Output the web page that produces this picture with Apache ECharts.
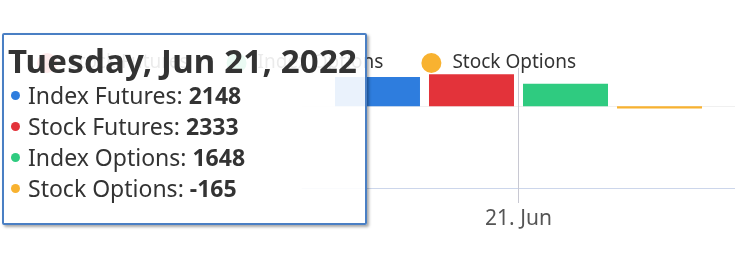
<!DOCTYPE html>
<html>
<head>
<meta charset="utf-8">
<script src="https://cdn.jsdelivr.net/npm/echarts@6/dist/echarts.min.js"></script>
<style>
  html, body { margin: 0; padding: 0; background: #ffffff; }
  #chart { width: 735px; height: 254px; }
</style>
</head>
<body>
<div id="chart"></div>
<script>
// ---- data ----
const categories = ['21. Jun'];
const fullDates = ['Tuesday, Jun 21, 2022'];
const seriesNames = ['Index Futures', 'Stock Futures', 'Index Options', 'Stock Options'];
const indexFutures = [2148];
const stockFutures = [2333];
const indexOptions = [1648];
const stockOptions = [-165];
const seriesColors = ['#2e7dde', '#e3333a', '#2fcb80', '#f8b230'];

const FONT = '"Noto Sans", sans-serif';
const values = [indexFutures, stockFutures, indexOptions, stockOptions];

const chart = echarts.init(document.getElementById('chart'), null, { renderer: 'canvas' });

const option = {
  animation: false,
  textStyle: { fontFamily: FONT },
  legend: {
    data: seriesNames.slice(1),
    right: 154,
    top: 48,
    icon: 'circle',
    itemWidth: 20,
    itemHeight: 20,
    itemGap: 38,
    textStyle: { fontFamily: FONT, fontSize: 19, color: '#333333', padding: [0, 0, 0, 6] }
  },
  grid: { left: 302, right: 0, top: 68, bottom: 66, containLabel: false },
  xAxis: {
    type: 'category',
    data: categories,
    axisLine: { show: true, onZero: false, lineStyle: { color: '#ccd6eb', width: 1 } },
    axisTick: { show: true, alignWithLabel: true, length: 15, lineStyle: { color: '#c8c8d2' } },
    axisLabel: { fontFamily: FONT, fontSize: 21, color: '#555555', margin: 21 },
    splitLine: { show: false }
  },
  yAxis: {
    type: 'value',
    min: -6000,
    max: 2800,
    interval: 3000,
    axisLabel: { show: false },
    axisLine: { show: false },
    axisTick: { show: false },
    splitLine: { show: true, lineStyle: { color: ['rgba(0,0,0,0)', 'rgba(0,0,0,0)', '#f0f0f0', 'rgba(0,0,0,0)'] } }
  },
  tooltip: {
    trigger: 'axis',
    alwaysShowContent: true,
    showDelay: 0,
    hideDelay: 0,
    transitionDuration: 0,
    position: [2, 33],
    backgroundColor: 'rgba(255,255,255,0.9)',
    borderColor: '#4a7fc4',
    borderWidth: 2,
    padding: 0,
    extraCssText: 'width:365px;height:192px;box-sizing:border-box;border-radius:2px;box-shadow:2px 2px 3px rgba(0,0,0,0.35);',
    axisPointer: { type: 'line', lineStyle: { color: '#c8c8d2', width: 1, type: 'solid' } },
    formatter: function (params) {
      const idx = params[0].dataIndex;
      let html = '<div style="font-family:' + FONT.replace(/"/g, "'") + ';color:#333;padding:10px 0 0 4px;">';
      html += '<div style="font-size:33px;font-weight:bold;line-height:32px;height:32px;white-space:nowrap;letter-spacing:0.2px;">' + fullDates[idx] + '</div>';
      html += '<div style="height:3px"></div>';
      params.forEach(function (p) {
        html += '<div style="font-size:23px;line-height:31px;height:31px;white-space:nowrap;">' +
          '<span style="display:inline-block;width:9px;height:9px;border-radius:50%;background:' + p.color + ';margin:0 8px 0 3px;vertical-align:middle;position:relative;top:-2px;"></span>' +
          p.seriesName + ': <b>' + p.value + '</b></div>';
      });
      html += '</div>';
      return html;
    }
  },
  series: seriesNames.map(function (name, i) {
    return {
      name: name,
      type: 'bar',
      data: values[i],
      barWidth: 85,
      barGap: '10.6%',
      itemStyle: { color: seriesColors[i] },
      emphasis: { disabled: true }
    };
  })
};

chart.setOption(option);
chart.dispatchAction({ type: 'showTip', seriesIndex: 0, dataIndex: 0 });
setTimeout(function () {
  chart.dispatchAction({ type: 'showTip', seriesIndex: 0, dataIndex: 0 });
}, 50);
</script>
</body>
</html>
